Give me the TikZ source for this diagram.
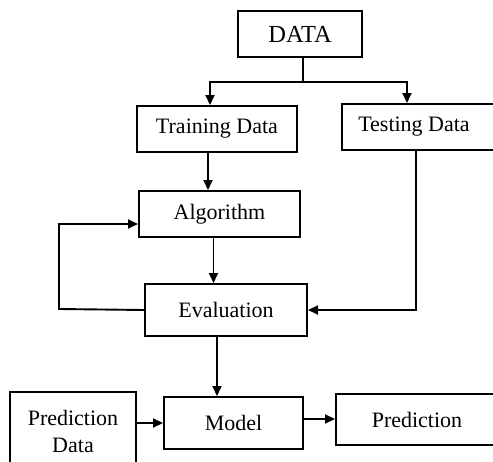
\documentclass[tikz,border=0pt]{standalone}
\usepackage{fontspec}
\setmainfont{Liberation Serif}
\usetikzlibrary{arrows.meta}
\begin{document}
\begin{tikzpicture}[x=1pt,y=-1pt]
		\tikzset{box/.style = {shape=rectangle, draw, line width=2pt, inner sep=0pt, font=\fontsize{22}{27}\selectfont, align=center},
			arr/.style = {line width=1.9pt, -{Triangle[length=10pt,width=9pt]}},
			ln/.style = {line width=1.9pt}}

		\useasboundingbox (0,0) rectangle (493,461);
		\clip (0,0) rectangle (493,461);

		\node[box, minimum width=124pt, minimum height=46pt, font=\fontsize{24.5}{29}\selectfont] (D) at (300,34) {DATA};
		\node[box, minimum width=160pt, minimum height=46pt] (T_1) at (217,129) {Training Data};
		\node[box, minimum width=200pt, minimum height=46pt] (T_2) at (442,127) {\hspace*{-56pt}Testing Data};
		\node[box, minimum width=161pt, minimum height=46pt] (A) at (219.5,214) {Algorithm};
		\node[box, minimum width=162pt, minimum height=52pt] (E) at (226,310) {Evaluation};
		\node[box, minimum width=139pt, minimum height=52pt] (M) at (233.5,423) {Model};
		\node[box, minimum width=126pt, minimum height=78pt] (P_1) at (73,431) {Prediction\\Data};
		\node[box, minimum width=200pt, minimum height=51pt] (P_2) at (436,419.5) {\hspace*{-38pt}Prediction};

		\coordinate (S) at (303,82);
		\coordinate (L) at (59,309);
		\coordinate (R) at (416,310);


		\draw[ln] ([xshift=3pt]D.south) -- (S);
		\draw[arr] (S) -| ([xshift=-7pt]T_1.north);
		\draw[arr] (S) -| ([xshift=-35pt]T_2.north);

		\draw[arr] ([xshift=-9pt]T_1.south) -- ([xshift=-9pt]T_1.south |- A.north);
		\draw[arr] ([xshift=-6pt]A.south) -- ([xshift=-6pt]A.south |- E.north);
		\draw[arr] ([xshift=-9pt]E.south) -- ([xshift=-9pt]E.south |- M.north);

		\draw[arr] (E.west) -- (L) |- ([yshift=-10pt]A.west);
		\draw[arr] (T_2.south -| R) -- (R) -- (E.east);

		\draw[arr] ([yshift=8pt]P_1.east) -- ([yshift=8pt]P_1.east -| M.west);
		\draw[arr] ([yshift=4pt]M.east) -- ([yshift=4pt]M.east -| P_2.west);

	\end{tikzpicture}
\end{document}
